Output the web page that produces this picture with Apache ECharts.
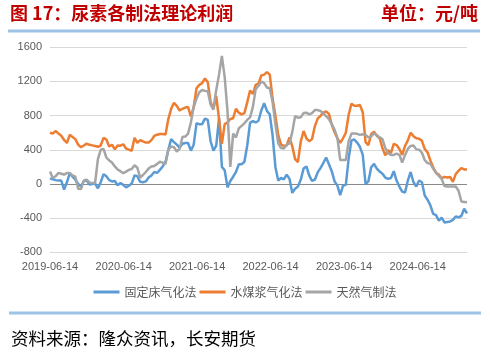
<!DOCTYPE html>
<html><head><meta charset="utf-8">
<script src="https://cdn.jsdelivr.net/npm/echarts@6/dist/echarts.min.js"></script>
<style>html,body{margin:0;padding:0;background:#fff}#c{width:490px;height:363px}</style>
</head><body><div id="c"></div>
<script>
// x categories: biweekly sampling dates starting at first date
const startDate = '2019-06-14';
const stepDays = 14;
const seriesNames = ['固定床气化法', '水煤浆气化法', '天然气制法'];
const fixedBed = [
65,55,45,40,40,-65,20,125,85,50,
0,-30,35,40,-5,0,5,-50,20,115,
90,45,30,35,-15,10,-10,-40,-20,5,
100,90,25,20,30,75,100,140,130,165,
205,260,400,525,490,460,425,470,480,480,
390,460,710,700,700,765,750,500,390,450,
770,200,160,-40,35,85,140,230,230,260,
450,715,735,720,740,860,945,855,815,570,
200,40,70,55,110,60,-105,-55,-30,50,
180,205,100,35,50,135,185,245,310,230,
150,30,-20,-130,-20,-10,300,510,520,485,
435,340,0,30,195,235,180,145,120,75,
60,70,150,40,-30,-90,-100,40,140,20,
-30,40,20,-135,-185,-250,-350,-365,-430,-395,
-450,-445,-440,-420,-380,-390,-375,-290,-345
];
const coalWater = [
600,590,620,590,565,515,480,575,550,525,
460,430,450,472,458,452,445,436,450,540,
520,438,460,405,450,448,465,415,402,388,
540,480,513,498,485,485,513,562,577,585,
585,578,760,880,950,915,860,880,895,900,
790,900,1120,1160,1180,1235,1190,960,880,1030,
760,470,700,720,760,770,880,835,815,830,
955,1095,1055,1160,1175,1270,1280,1310,1280,1000,
800,575,460,445,450,545,440,290,255,495,
620,535,500,525,675,765,797,835,850,820,
695,605,535,480,535,600,810,940,915,915,
925,840,490,455,585,610,565,535,420,335,
395,360,470,455,410,340,445,510,600,560,
535,530,505,410,370,275,195,130,110,65,
83,75,82,25,115,155,185,170,170
];
const naturalGas = [
145,70,90,130,120,110,128,128,100,85,
-55,-60,40,50,18,10,10,290,400,410,
310,275,250,205,170,150,125,145,165,175,
220,190,75,105,140,180,205,210,235,260,
250,235,400,440,430,380,410,550,555,590,
720,900,1000,1075,1100,1090,1085,930,870,1100,
1280,1500,1250,850,200,590,545,650,680,710,
750,780,900,1110,1150,1200,1180,1130,1120,960,
700,475,420,415,460,475,610,795,775,780,
830,835,815,830,865,865,855,825,795,760,
700,635,540,280,280,280,500,590,590,587,
575,583,575,545,555,595,570,545,525,420,
358,340,340,355,340,250,340,410,445,450,
405,402,365,280,245,235,180,130,95,60,
-25,-30,-30,-30,-30,-80,-205,-210,-215
];
const xTickLabels = ['2019-06-14','2020-06-14','2021-06-14','2022-06-14','2023-06-14','2024-06-14'];
const yMin = -800, yMax = 1600, yStep = 400;
const colors = ['#5B9BD5', '#ED7D31', '#A5A5A5'];

const t0 = Date.parse(startDate);
const dates = fixedBed.map((_, i) => t0 + i * stepDays * 86400000);
function pair(arr) { return arr.map((v, i) => [dates[i], v]); }
function fmt(v) {
  const d = new Date(v);
  const p = n => (n < 10 ? '0' : '') + n;
  return d.getUTCFullYear() + '-' + p(d.getUTCMonth() + 1) + '-' + p(d.getUTCDate());
}
const allSeries = [fixedBed, coalWater, naturalGas];
const chart = echarts.init(document.getElementById('c'), null, {renderer: 'canvas'});
chart.setOption({
  animation: false,
  backgroundColor: '#fff',
  grid: {left: 50, right: 23, top: 47.3, bottom: 363 - 252.3, containLabel: false},
  xAxis: {
    type: 'value',
    min: dates[0],
    max: dates[dates.length - 1],
    axisLine: {show: false},
    axisTick: {show: false},
    splitLine: {show: false},
    axisLabel: {
      customValues: xTickLabels.map(s => Date.parse(s)),
      formatter: v => fmt(v),
      color: '#595959', fontSize: 11, fontFamily: 'Liberation Sans', margin: 9,
      hideOverlap: false
    }
  },
  yAxis: {
    type: 'value', min: yMin, max: yMax, interval: yStep,
    axisLine: {show: false}, axisTick: {show: false},
    axisLabel: {color: '#595959', fontSize: 11, fontFamily: 'Liberation Sans', margin: 8,
      formatter: v => String(v)},
    splitLine: {lineStyle: {color: ['#D9D9D9','#D9D9D9','#898989','#D9D9D9','#D9D9D9','#D9D9D9','#D9D9D9'], width: 1}}
  },
  legend: {
    left: 'center', top: 281,
    icon: 'rect', itemWidth: 26, itemHeight: 3, itemGap: 3,
    textStyle: {color: '#595959', fontSize: 12, fontFamily: 'Noto Sans CJK SC'},
    data: seriesNames
  },
  series: allSeries.map((arr, i) => ({
    name: seriesNames[i], type: 'line', data: pair(arr),
    showSymbol: false, symbol: 'none',
    lineStyle: {width: 2.5, color: colors[i]}, itemStyle: {color: colors[i]},
    z: 2 + i
  })),
  graphic: [
    {type: 'text', left: 10, top: 4, style: {text: '图 17：尿素各制法理论利润', font: 'bold 18px "Noto Sans CJK SC"', fill: '#C00000'}},
    {type: 'text', right: 12, top: 4, style: {text: '单位：元/吨', font: 'bold 18px "Noto Sans CJK SC"', fill: '#C00000'}},
    {type: 'rect', shape: {x: 8, y: 29.5, width: 472, height: 3}, style: {fill: '#9DC3E6'}},
    {type: 'rect', shape: {x: 9, y: 311.5, width: 472, height: 3}, style: {fill: '#9DC3E6'}},
    {type: 'text', left: 11, top: 330, style: {text: '资料来源：隆众资讯，长安期货', font: '17.5px "Noto Sans CJK SC"', fill: '#000'}}
  ]
});
</script></body></html>
